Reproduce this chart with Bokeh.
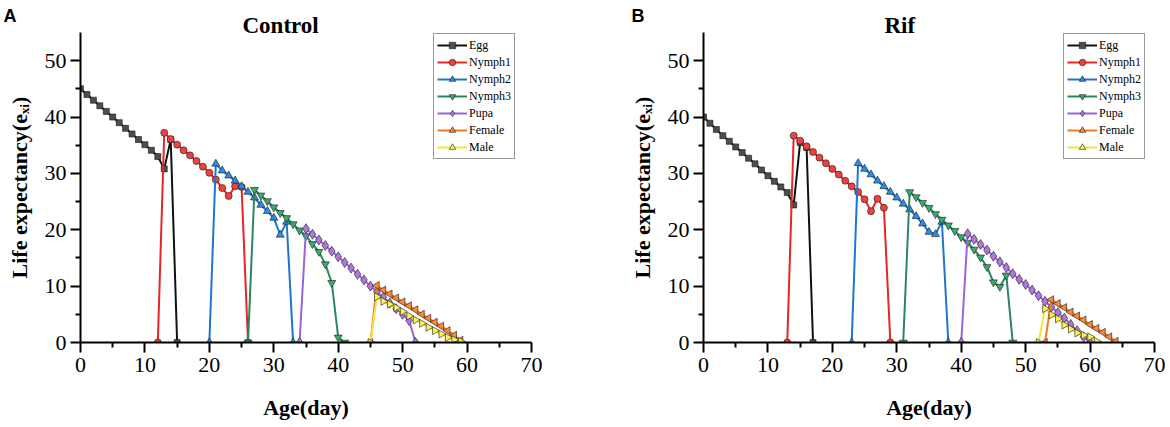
import numpy as np
from bokeh.plotting import figure
from bokeh.models import Range1d, FixedTicker, Legend, LegendItem, Title
from bokeh.layouts import row
from bokeh.embed import file_html
from bokeh.resources import INLINE

# ---------------- data: Control ----------------
egg_days_c = list(range(0, 16))
egg_c = [45.0, 44.0, 43.0, 42.0, 41.0, 40.0, 39.0, 38.0, 37.0, 36.0, 35.1, 34.1, 33.0, 30.8, 36.0, 0.0]
n1_days_c = list(range(12, 27))
n1_c = [0.0, 37.2, 36.1, 35.1, 34.1, 33.2, 32.2, 31.2, 30.1, 28.9, 27.4, 26.0, 27.7, 27.6, 0.0]
n2_days_c = list(range(20, 34))
n2_c = [0.0, 31.7, 30.5, 29.6, 28.7, 27.7, 26.7, 25.7, 24.4, 23.3, 22.1, 19.1, 21.4, 0.0]
n3_days_c = list(range(26, 42))
n3_c = [0.0, 27.1, 26.1, 25.1, 24.0, 23.0, 22.1, 21.0, 19.9, 18.9, 17.5, 16.1, 13.9, 10.6, 0.9, 0.0]
pupa_days_c = list(range(34, 53))
pupa_c = [0.0, 20.2, 19.2, 18.2, 17.2, 16.2, 15.2, 14.2, 13.2, 12.1, 11.1, 10.0, 9.0, 8.0, 7.0, 6.0, 5.0, 3.9, 0.0]
female_days_c = list(range(45, 60))
female_c = [0.0, 10.1, 9.3, 8.6, 7.9, 7.2, 6.5, 5.8, 5.0, 4.3, 3.6, 2.9, 2.1, 1.3, 0.4]
male_days_c = list(range(45, 60))
male_c = [0.0, 8.1, 7.3, 6.8, 6.2, 5.5, 4.7, 4.0, 3.4, 2.7, 2.1, 1.5, 0.9, 0.5, 0.2]

# ---------------- data: Rif ----------------
egg_days_r = list(range(0, 18))
egg_r = [40.0, 38.9, 37.8, 36.7, 35.7, 34.7, 33.7, 32.7, 31.7, 30.6, 29.6, 28.6, 27.6, 26.6, 24.4, 35.5, 34.6, 0.0]
n1_days_r = list(range(13, 30))
n1_r = [0.0, 36.7, 35.8, 34.8, 33.8, 32.8, 31.8, 30.8, 29.8, 28.7, 27.7, 26.7, 25.4, 23.3, 25.5, 23.9, 0.0]
n2_days_r = list(range(23, 39))
n2_r = [0.0, 31.8, 30.8, 29.8, 28.7, 27.7, 26.7, 25.7, 24.6, 23.6, 22.4, 21.1, 19.6, 19.2, 21.4, 0.0]
n3_days_r = list(range(31, 49))
n3_r = [0.0, 26.7, 25.8, 24.8, 23.9, 22.8, 21.8, 20.8, 19.8, 18.7, 17.7, 16.5, 15.1, 13.4, 10.7, 9.9, 11.9, 0.0]
pupa_days_r = list(range(40, 61))
pupa_r = [0.0, 19.3, 18.3, 17.4, 16.4, 15.3, 14.3, 13.3, 12.2, 11.2, 10.3, 9.3, 8.3, 7.3, 6.3, 5.3, 4.3, 3.2, 2.1, 1.0, 0.0]
female_days_r = list(range(53, 65))
female_r = [0.0, 7.6, 6.9, 6.2, 5.4, 4.7, 4.0, 3.2, 2.5, 1.8, 1.0, 0.2]
male_days_r = list(range(52, 62))
male_r = [0.0, 6.0, 4.9, 4.2, 3.1, 2.4, 1.7, 1.3, 1.0, 0.2]

stage_names = ["Egg", "Nymph1", "Nymph2", "Nymph3", "Pupa", "Female", "Male"]
x_ticks = [0, 10, 20, 30, 40, 50, 60, 70]
y_ticks = [0, 10, 20, 30, 40, 50]

# styles
line_colors = ["#111111", "#E8242A", "#1F74CF", "#27875F", "#9B63D6", "#F27B22", "#F2E23C"]
fill_colors = ["#4D4D4D", "#F14040", "#2A8DE6", "#37AD6B", "#B177DE", "#FB8A37", "#FBF25A"]
markers = ["square", "circle", "triangle", "inverted_triangle", "diamond", "triangle", "triangle"]
angles = [0.0, 0.0, 0.0, 0.0, 0.0, float(np.pi / 2), float(-np.pi / 2)]
sizes = [6, 7, 8, 8, 10, 8, 8]

SERIF = "Liberation Serif"


def make_panel(series, title, letter, width, mbl, mbr, title_off, letter_off, legend_x):
    p = figure(width=width, height=427, x_range=Range1d(0, 70), y_range=Range1d(0, 55),
               output_backend="svg", toolbar_location=None,
               min_border_left=mbl, min_border_right=mbr, min_border_top=32, min_border_bottom=85,
               x_axis_label="Age(day)", y_axis_label="Life expectancy(e\u2093\u1d62)")
    p.grid.visible = False
    p.outline_line_color = None
    p.xaxis.ticker = FixedTicker(ticks=x_ticks, minor_ticks=[t + 5 for t in x_ticks[:-1]])
    p.yaxis.ticker = FixedTicker(ticks=y_ticks, minor_ticks=[t + 5 for t in y_ticks[:-1]])
    for ax in (p.xaxis[0], p.yaxis[0]):
        ax.axis_line_width = 2
        ax.axis_line_color = "black"
        ax.major_tick_line_width = 2
        ax.minor_tick_line_width = 2
        ax.major_tick_in = 0
        ax.major_tick_out = 10
        ax.minor_tick_in = 0
        ax.minor_tick_out = 5
        ax.major_label_text_font = SERIF
        ax.major_label_text_font_size = "22px"
        ax.major_label_text_color = "black"
        ax.axis_label_text_font = SERIF
        ax.axis_label_text_font_size = "22px"
        ax.axis_label_text_font_style = "bold"
        ax.axis_label_text_color = "black"
    p.xaxis[0].major_label_standoff = 5
    p.xaxis[0].axis_label_standoff = 20
    p.yaxis[0].major_label_standoff = 4
    p.yaxis[0].axis_label_standoff = 10

    items = []
    for i, (xs, ys) in enumerate(series):
        lr = p.line(xs, ys, line_color=line_colors[i], line_width=2)
        sr = p.scatter(xs, ys, marker=markers[i], size=sizes[i], angle=angles[i],
                       fill_color=fill_colors[i], line_color="#1a1a1a", line_width=0.6)
        items.append(LegendItem(label=stage_names[i], renderers=[lr, sr]))

    legend = Legend(items=items, location=(legend_x, 183), label_text_font=SERIF,
                    label_text_font_size="12px", label_text_color="black",
                    glyph_width=30, glyph_height=16, label_height=16, spacing=1,
                    padding=3, label_standoff=2, margin=0,
                    border_line_color="#333333", border_line_width=1,
                    background_fill_color="white", background_fill_alpha=1.0)
    p.add_layout(legend)

    # panel letter (outermost) and panel title (next to the frame)
    p.title.text = letter
    p.title.align = "left"
    p.title.offset = letter_off
    p.title.standoff = -20
    p.title.text_font = "Liberation Sans"
    p.title.text_font_style = "bold"
    p.title.text_font_size = "18px"
    p.title.text_color = "black"
    t = Title(text=title, align="left", offset=title_off, standoff=-10,
              text_font=SERIF, text_font_style="bold", text_font_size="23px", text_color="black")
    p.add_layout(t, "above")
    return p


series_c = [(egg_days_c, egg_c), (n1_days_c, n1_c), (n2_days_c, n2_c), (n3_days_c, n3_c),
            (pupa_days_c, pupa_c), (female_days_c, female_c), (male_days_c, male_c)]
series_r = [(egg_days_r, egg_r), (n1_days_r, n1_r), (n2_days_r, n2_r), (n3_days_r, n3_r),
            (pupa_days_r, pupa_r), (female_days_r, female_r), (male_days_r, male_r)]

p1 = make_panel(series_c, "Control", "A", 625, 80, 94, 162, -77, 353)
p2 = make_panel(series_r, "Rif", "B", 545, 78, 16, 181, -72, 360)

layout = row(p1, p2)
open("out.html", "w").write(file_html(layout, INLINE))
